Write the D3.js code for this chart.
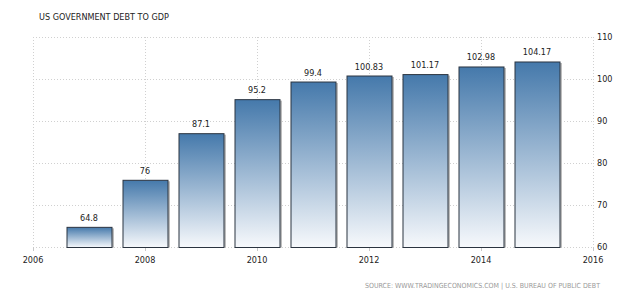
<!DOCTYPE html>
<html>
<head>
<meta charset="utf-8">
<script src="https://cdn.jsdelivr.net/npm/d3@7"></script>
<style>
  body { margin: 0; background: #fff; }
  svg text { font-family: "DejaVu Sans Condensed", "DejaVu Sans", sans-serif; font-stretch: condensed; }
</style>
</head>
<body>
<svg id="canvas" width="640" height="298"></svg>
<script>
// data
let years = [2007, 2008, 2009, 2010, 2011, 2012, 2013, 2014, 2015];
let debt = [64.8, 76, 87.1, 95.2, 99.4, 100.83, 101.17, 102.98, 104.17];
let labels = ["64.8", "76", "87.1", "95.2", "99.4", "100.83", "101.17", "102.98", "104.17"];
let xTicks = [2006, 2008, 2010, 2012, 2014, 2016];
let yTicks = [60, 70, 80, 90, 100, 110];

let canvas = d3.select("#canvas");

let x = d3.scaleLinear().domain([2006, 2016]).range([33, 593]);
let y = d3.scaleLinear().domain([60, 110]).range([247, 37]);
let barW = 45;

//gradient for bars
let defs = canvas.append("defs");
let grad = defs.append("linearGradient")
    .attr("id", "barGrad")
    .attr("x1", "0%").attr("y1", "0%")
    .attr("x2", "0%").attr("y2", "100%");
grad.append("stop").attr("offset", "0%").style("stop-color", "#4579ab");
grad.append("stop").attr("offset", "100%").style("stop-color", "#f7f9fc");

//grid lines
canvas.append("g")
    .selectAll("line")
    .data(yTicks)
    .join("line")
    .attr("x1", x(2006)).attr("x2", x(2016))
    .attr("y1", d => y(d) + 0.5).attr("y2", d => y(d) + 0.5)
    .attr("stroke", "#d0d0d0")
    .attr("stroke-dasharray", "1,2");
canvas.append("g")
    .selectAll("line")
    .data(xTicks)
    .join("line")
    .attr("x1", d => x(d) + 0.5).attr("x2", d => x(d) + 0.5)
    .attr("y1", y(110)).attr("y2", y(60))
    .attr("stroke", "#d0d0d0")
    .attr("stroke-dasharray", "1,2");

//little ticks under axis
canvas.append("g")
    .selectAll("line")
    .data(xTicks)
    .join("line")
    .attr("x1", d => x(d) + 0.5).attr("x2", d => x(d) + 0.5)
    .attr("y1", y(60)).attr("y2", y(60) + 4)
    .attr("stroke", "#c8c8c8");

//bars: shadow first, then the bar
let bars = canvas.append("g")
    .selectAll("g")
    .data(years.map((d, i) => ({ year: d, value: debt[i], label: labels[i] })))
    .join("g");

bars.append("rect")
    .attr("x", d => x(d.year) - barW / 2 + 2.5)
    .attr("y", d => y(d.value) + 1.5)
    .attr("width", barW)
    .attr("height", d => y(60) - y(d.value) - 1)
    .attr("fill", "#bdbdbd");

bars.append("rect")
    .attr("x", d => x(d.year) - barW / 2 + 0.5)
    .attr("y", d => y(d.value) + 0.5)
    .attr("width", barW)
    .attr("height", d => y(60) - y(d.value))
    .attr("fill", "url(#barGrad)")
    .attr("stroke", "#2b3440")
    .attr("stroke-width", 1);

bars.append("text")
    .attr("x", d => x(d.year))
    .attr("y", d => y(d.value) - 6)
    .attr("text-anchor", "middle")
    .style("font-size", "9px")
    .style("fill", "#222")
    .text(d => d.label);

//axis labels
canvas.append("g")
    .selectAll("text")
    .data(xTicks)
    .join("text")
    .attr("x", d => x(d))
    .attr("y", 263)
    .attr("text-anchor", "middle")
    .style("font-size", "9px")
    .style("fill", "#222")
    .text(d => d);

canvas.append("g")
    .selectAll("text")
    .data(yTicks)
    .join("text")
    .attr("x", 597)
    .attr("y", d => y(d) + 3)
    .style("font-size", "9px")
    .style("fill", "#222")
    .text(d => d);

//title and source
canvas.append("text")
    .attr("x", 39)
    .attr("y", 20)
    .style("font-size", "9px")
    .style("fill", "#222")
    .text("US GOVERNMENT DEBT TO GDP");

canvas.append("text")
    .attr("x", 600)
    .attr("y", 288)
    .attr("text-anchor", "end")
    .style("font-size", "7px")
    .style("fill", "#999")
    .text("SOURCE: WWW.TRADINGECONOMICS.COM | U.S. BUREAU OF PUBLIC DEBT");
</script>
</body>
</html>
